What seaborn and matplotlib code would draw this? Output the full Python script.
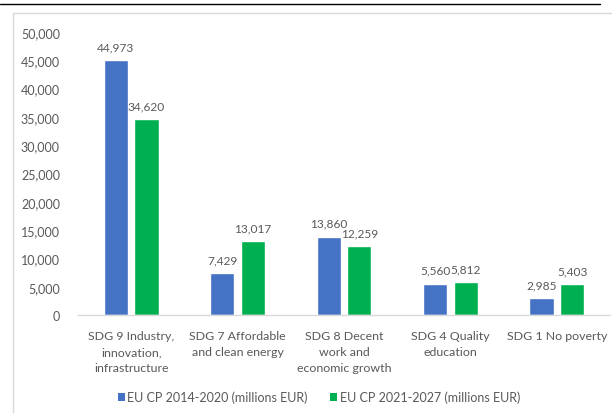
import matplotlib
matplotlib.use('Agg')
import matplotlib.pyplot as plt
from matplotlib.lines import Line2D
from matplotlib.patches import Patch
import seaborn as sns
import pandas as pd

# Data
categories = [
    "SDG 9 Industry,\ninnovation,\ninfrastructure",
    "SDG 7 Affordable\nand clean energy",
    "SDG 8 Decent\nwork and\neconomic growth",
    "SDG 4 Quality\neducation",
    "SDG 1 No poverty",
]
series_names = ["EU CP 2014-2020 (millions EUR)", "EU CP 2021-2027 (millions EUR)"]
cp_2014_2020 = [44973, 7429, 13860, 5560, 2985]
cp_2021_2027 = [34620, 13017, 12259, 5812, 5403]
y_ticks = [0, 5000, 10000, 15000, 20000, 25000, 30000, 35000, 40000, 45000, 50000]

colors = ["#4472C4", "#00B050"]
text_color = "#595959"

df = pd.DataFrame({
    "category": categories * 2,
    "series": [series_names[0]] * len(categories) + [series_names[1]] * len(categories),
    "value": cp_2014_2020 + cp_2021_2027,
})

sns.set_style("white")
plt.rcParams['font.family'] = ['Lato', 'DejaVu Sans']

fig = plt.figure(figsize=(6.12, 4.14), dpi=100)
ax = fig.add_axes([78 / 612, 1 - 316 / 414, (610 - 78) / 612, (316 - 33) / 414])

sns.barplot(data=df, x="category", y="value", hue="series", palette=colors,
            width=0.575, gap=0.21, ax=ax, legend=False, saturation=1)

for container in ax.containers:
    ax.bar_label(container, labels=[f"{v:,.0f}" for v in container.datavalues],
                 padding=5.5, fontsize=8.6, color=text_color)

ax.set_xlim(-0.5, len(categories) - 0.5)
ax.set_ylim(0, 50000)
ax.set_yticks(y_ticks)
ax.set_yticklabels([f"{t:,}" for t in y_ticks])
ax.set_xlabel("")
ax.set_ylabel("")
ax.tick_params(axis="both", length=0, labelcolor=text_color)
ax.tick_params(axis="y", labelsize=9, pad=13)
ax.tick_params(axis="x", labelsize=8.9, pad=11)
for lbl in ax.get_xticklabels():
    lbl.set_linespacing(1.52)
for side in ["top", "right", "left"]:
    ax.spines[side].set_visible(False)
ax.spines["bottom"].set_color("#D9D9D9")
ax.spines["bottom"].set_linewidth(1)

# Legend (centred on the chart frame, which runs past the right edge)
handles = [Patch(facecolor=c, edgecolor="none") for c in colors]
fig.legend(handles, series_names, loc="center", bbox_to_anchor=(319 / 612, 16 / 414),
           ncol=2, frameon=False, fontsize=9, labelcolor=text_color,
           handlelength=0.55, handleheight=0.55, handletextpad=0.2, columnspacing=1.8)

# Page rule at the top and chart frame
fig.add_artist(Line2D([0, 600 / 612], [1 - 5 / 414, 1 - 5 / 414], color="black", linewidth=1))
fig.add_artist(Line2D([13 / 612, 1], [1 - 14 / 414, 1 - 14 / 414], color="#D9D9D9", linewidth=1))
fig.add_artist(Line2D([13 / 612, 13 / 612], [0, 1 - 14 / 414], color="#D9D9D9", linewidth=1))

fig.savefig("out.png", dpi=100, facecolor="white")
plt.close(fig)
